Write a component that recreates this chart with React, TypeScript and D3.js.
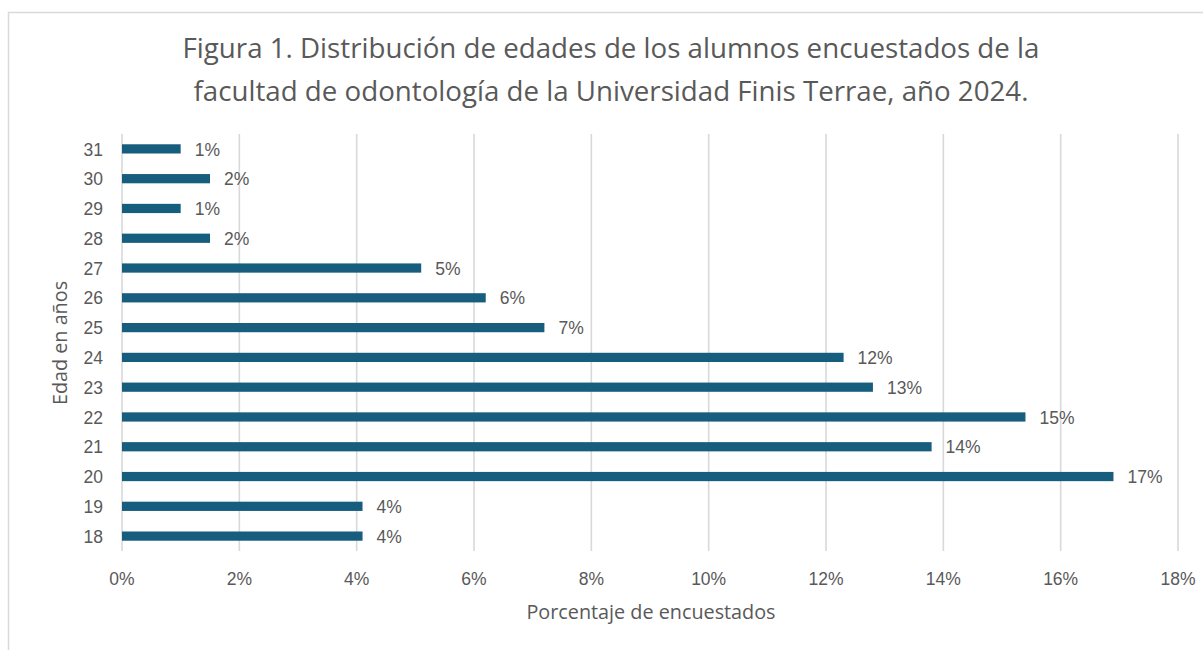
import * as d3 from 'd3'

const ages = ['18', '19', '20', '21', '22', '23', '24', '25', '26', '27', '28', '29', '30', '31']
const percents = [4.1, 4.1, 16.9, 13.8, 15.4, 12.8, 12.3, 7.2, 6.2, 5.1, 1.5, 1.0, 1.5, 1.0]
const xTicks = [0, 2, 4, 6, 8, 10, 12, 14, 16, 18]
const titleLines = [
  'Figura 1. Distribución de edades de los alumnos encuestados de la',
  'facultad de odontología de la Universidad Finis Terrae, año 2024.',
]

const W = 1203
const H = 650
const margin = { top: 134, right: 25, bottom: 99, left: 122 }
const labelFont = '"Liberation Sans", Arial, sans-serif'
const titleFont = '"Open Sans", "Noto Sans", sans-serif'

export default function App() {
  const innerW = W - margin.left - margin.right
  const innerH = H - margin.top - margin.bottom

  const x = d3.scaleLinear().domain([0, 18]).range([0, innerW])
  const y = d3.scaleBand()
    .domain([...ages].reverse())
    .range([0, innerH])
    .paddingInner(0.69)
    .paddingOuter(0.345)

  const data = ages.map((age, i) => ({ age, value: percents[i] }))

  return (
    <svg width={W} height={H} style={{ position: 'absolute', left: 0, top: 0, background: '#fff' }}>
      <rect x={8.5} y={12.5} width={W + 20} height={H + 20} fill="#fff" stroke="#d9d9d9" strokeWidth={1.5} />

      {titleLines.map((line, i) => (
        <text
          key={i}
          x={611}
          y={58 + i * 43}
          textAnchor="middle"
          fill="#595959"
          fontFamily={titleFont}
          fontSize={27.7}
        >
          {line}
        </text>
      ))}

      <g transform={`translate(${margin.left},${margin.top})`}>
        {xTicks.map(t => (
          <line key={t} x1={x(t)} x2={x(t)} y1={0} y2={innerH} stroke="#d9d9d9" strokeWidth={1.6} />
        ))}

        {data.map(d => (
          <rect
            key={d.age}
            x={x(0)}
            y={y(d.age)}
            width={x(d.value) - x(0)}
            height={y.bandwidth()}
            fill="#175e7e"
          />
        ))}

        {data.map(d => (
          <text
            key={'l' + d.age}
            x={x(d.value) + 14}
            y={(y(d.age) ?? 0) + y.bandwidth() / 2}
            dy="0.38em"
            fill="#595959"
            fontFamily={labelFont}
            fontSize={17.5}
          >
            {Math.round(d.value)}%
          </text>
        ))}

        {ages.map(a => (
          <text
            key={'y' + a}
            x={-19}
            y={(y(a) ?? 0) + y.bandwidth() / 2}
            dy="0.38em"
            textAnchor="end"
            fill="#595959"
            fontFamily={labelFont}
            fontSize={17.5}
          >
            {a}
          </text>
        ))}

        {xTicks.map(t => (
          <text
            key={'x' + t}
            x={x(t)}
            y={innerH + 34}
            textAnchor="middle"
            fill="#595959"
            fontFamily={labelFont}
            fontSize={17.5}
          >
            {t}%
          </text>
        ))}
      </g>

      <text
        x={651}
        y={619}
        textAnchor="middle"
        fill="#595959"
        fontFamily={titleFont}
        fontSize={19.8}
      >
        Porcentaje de encuestados
      </text>
      <text
        transform={`translate(67,343) rotate(-90)`}
        textAnchor="middle"
        fill="#595959"
        fontFamily={titleFont}
        fontSize={19.8}
      >
        Edad en años
      </text>
    </svg>
  )
}
